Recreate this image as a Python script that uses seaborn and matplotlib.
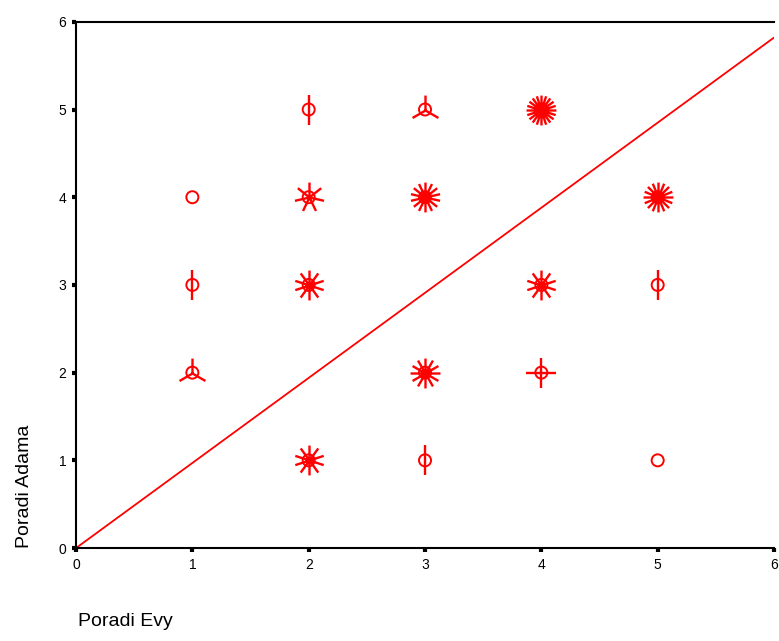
import numpy as np
import pandas as pd
import matplotlib
matplotlib.use("Agg")
import matplotlib.pyplot as plt
from matplotlib.path import Path
import seaborn as sns

# Data: sunflower plot (Poradi Evy vs Poradi Adama), count = number of cases
evy   = [1, 2, 3, 4, 1, 2, 3, 5, 2, 4, 5, 1, 3, 4, 2, 3, 5]
adama = [4, 5, 5, 5, 3, 4, 4, 4, 3, 3, 3, 2, 2, 2, 1, 1, 1]
count = [1, 2, 3, 20, 2, 7, 14, 16, 10, 10, 2, 3, 12, 4, 10, 2, 1]
fit_x = [0, 6]
fit_y = [0, 5.82]
x_ticks = [0, 1, 2, 3, 4, 5, 6]
y_ticks = [0, 1, 2, 3, 4, 5, 6]

df = pd.DataFrame({"Poradi Evy": evy, "Poradi Adama": adama, "n": count})

sns.set_style("white")
plt.rcParams["font.family"] = ["Liberation Sans", "DejaVu Sans"]
plt.rcParams["text.color"] = "black"
plt.rcParams["xtick.color"] = "black"
plt.rcParams["ytick.color"] = "black"

fig = plt.figure(figsize=(7.79, 6.41), dpi=100)
ax = fig.add_axes([0.0976, 0.145, 0.896, 0.821])

RED = "#ff0000"

def petal_marker(n):
    verts, codes = [], []
    for k in range(n):
        a = np.pi / 2 + 2 * np.pi * k / n
        verts += [(0, 0), (np.cos(a), np.sin(a))]
        codes += [Path.MOVETO, Path.LINETO]
    # zero-length anchors so the marker is scaled uniformly
    verts += [(-1, -1), (-1, -1), (1, 1), (1, 1)]
    codes += [Path.MOVETO, Path.LINETO, Path.MOVETO, Path.LINETO]
    return Path(verts, codes)

# fit line
sns.lineplot(x=fit_x, y=fit_y, ax=ax, color=RED, linewidth=1.3)

# circles
sns.scatterplot(data=df, x="Poradi Evy", y="Poradi Adama", ax=ax,
                marker="o", s=75, facecolor="none", edgecolor=RED,
                linewidth=1.4, zorder=3)

# petals
for xi, yi, ni in zip(evy, adama, count):
    if ni > 1:
        ax.plot([xi], [yi], marker=petal_marker(ni), markersize=21.5,
                markeredgecolor=RED, markerfacecolor="none",
                markeredgewidth=1.7, linestyle="none", zorder=4)

ax.set_xlim(0, 6)
ax.set_ylim(0, 6)
ax.set_xticks(x_ticks)
ax.set_yticks(y_ticks)
ax.set_xticklabels([str(t) for t in x_ticks], fontsize=10)
ax.set_yticklabels([str(t) for t in y_ticks], fontsize=10)
ax.tick_params(axis="both", direction="out", length=3, width=3, color="black",
               labelcolor="black", pad=4, bottom=True, left=True)
for s in ax.spines.values():
    s.set_color("black")
    s.set_linewidth(1.5)
ax.spines["right"].set_visible(False)

ax.set_xlabel("")
ax.set_ylabel("")
fig.text(0.1, 0.0175, "Poradi Evy", fontsize=14, ha="left", va="bottom",
         color="black")
fig.text(0.031, 0.145, "Poradi Adama", fontsize=14, rotation=90,
         ha="center", va="bottom", color="black")

fig.savefig("out.png", dpi=100)
